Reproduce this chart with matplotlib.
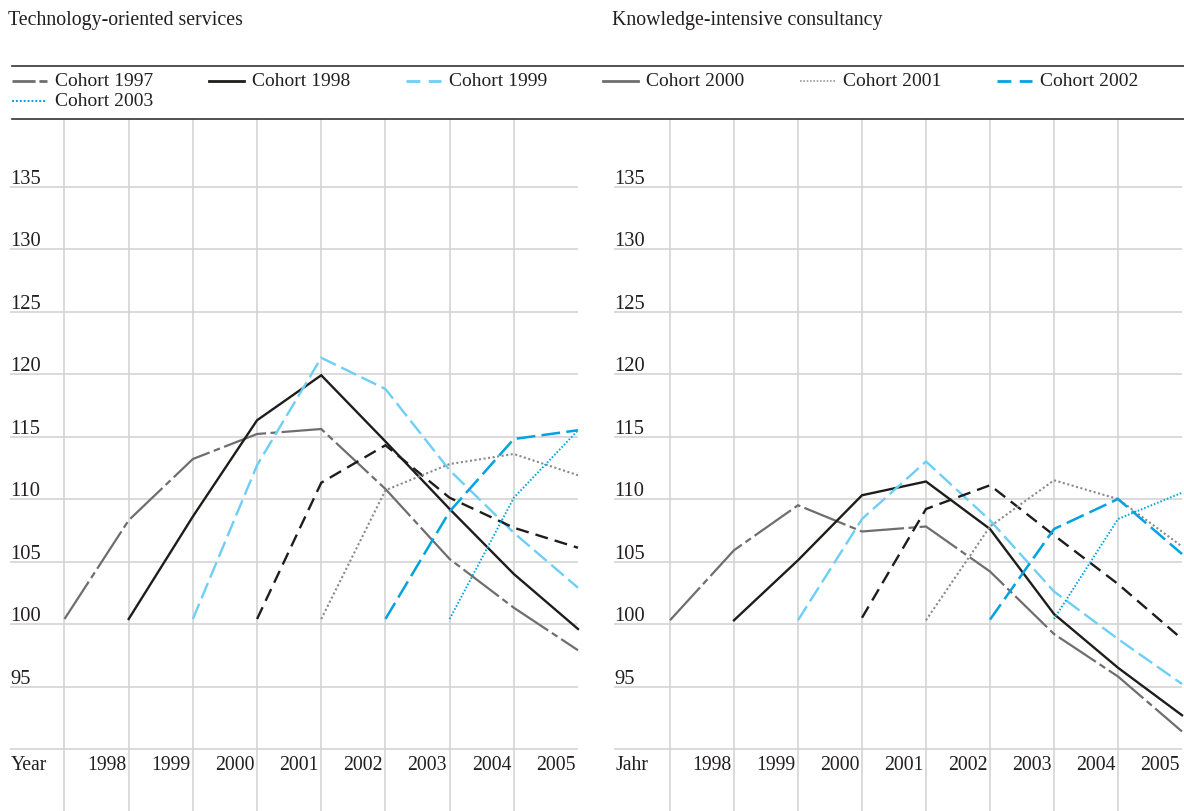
import matplotlib.pyplot as plt
from matplotlib.lines import Line2D
import matplotlib.transforms as mtransforms

plt.rcParams["font.family"] = ["Liberation Serif", "DejaVu Serif"]

# --- DATA ---
years = [1997, 1998, 1999, 2000, 2001, 2002, 2003, 2004, 2005]
cohorts = [1997, 1998, 1999, 2000, 2001, 2002, 2003]

tech_1997 = [100.4, 108.3, 113.2, 115.2, 115.6, 110.8, 105.2, 101.3, 97.9]
tech_1998 = [100.4, 108.6, 116.3, 119.9, 114.6, 109.2, 104.0, 99.6]
tech_1999 = [100.4, 112.7, 121.3, 118.8, 112.3, 107.3, 102.9]
tech_2000 = [100.4, 111.3, 114.3, 110.1, 107.7, 106.1]
tech_2001 = [100.4, 110.7, 112.8, 113.6, 111.9]
tech_2002 = [100.4, 109.0, 114.8, 115.5]
tech_2003 = [100.4, 110.1, 115.5]

know_1997 = [100.3, 105.9, 109.5, 107.4, 107.8, 104.2, 99.2, 95.8, 91.4]
know_1998 = [100.3, 105.1, 110.3, 111.4, 107.6, 100.8, 96.5, 92.7]
know_1999 = [100.3, 108.4, 113.0, 108.3, 102.6, 98.8, 95.2]
know_2000 = [100.5, 109.2, 111.1, 107.1, 103.2, 98.8]
know_2001 = [100.3, 107.8, 111.5, 110.0, 106.2]
know_2002 = [100.35, 107.6, 110.0, 105.6]
know_2003 = [100.4, 108.4, 110.5]

tech_series = [tech_1997, tech_1998, tech_1999, tech_2000, tech_2001, tech_2002, tech_2003]
know_series = [know_1997, know_1998, know_1999, know_2000, know_2001, know_2002, know_2003]

y_labels = [95, 100, 105, 110, 115, 120, 125, 130, 135]

# --- STYLES ---
GRAY = "#6e6e6e"
BLACK = "#1d1d1b"
LIGHT_BLUE = "#6dcff6"
BLUE = "#00a3e0"
DOT_GRAY = "#8a8a8a"
GRID = "#d4d4d4"
TEXT = "#231f20"

# how each cohort is drawn inside the plot
line_styles = [
    dict(color=GRAY, lw=1.6, dashes=(20, 2, 3, 2)),
    dict(color=BLACK, lw=1.7),
    dict(color=LIGHT_BLUE, lw=1.7, dashes=(7, 2.5)),
    dict(color=BLACK, lw=1.7, dashes=(5.5, 3)),
    dict(color=DOT_GRAY, lw=1.5, dashes=(1, 1.2)),
    dict(color=BLUE, lw=1.8, dashes=(7.5, 2.5)),
    dict(color=BLUE, lw=1.4, dashes=(0.8, 1.0)),
]

# how each cohort appears in the legend
legend_styles = [
    dict(color=GRAY, lw=2, dashes=(8.3, 1.4, 2.9, 1.4)),
    dict(color=BLACK, lw=2),
    dict(color=LIGHT_BLUE, lw=2, dashes=(5, 3)),
    dict(color=GRAY, lw=2),
    dict(color="#9a9a9a", lw=1.2, dashes=(1, 1)),
    dict(color=BLUE, lw=2, dashes=(5, 3)),
    dict(color=BLUE, lw=1.4, dashes=(1, 1)),
]

FW, FH = 1184, 812
fig = plt.figure(figsize=(FW / 100, FH / 100), dpi=100)
fig.patch.set_facecolor("white")


def fx(x):
    return x / FW


def fy(y):
    return 1 - y / FH


def draw_panel(ax, series, xlim, axis_word):
    ax.set_xlim(*xlim)
    ax.set_ylim(85.04, 140.4)
    for s in ax.spines.values():
        s.set_visible(False)
    ax.set_xticks(years[:-1])
    ax.set_yticks(range(90, 140, 5))
    ax.tick_params(length=0, labelbottom=False, labelleft=False)
    ax.grid(True, color=GRID, lw=1.2)
    ax.set_axisbelow(True)

    for cohort, vals, st in zip(cohorts, series, line_styles):
        xs = years[years.index(cohort):][: len(vals)]
        ax.plot(xs, vals, clip_on=False, solid_joinstyle="miter",
                dash_joinstyle="miter", **st)

    trans = mtransforms.blended_transform_factory(ax.transAxes, ax.transData)
    for v in y_labels:
        ax.text(0.0, v + 0.3, str(v), transform=trans, ha="left",
                va="baseline", fontsize=14.8, color=TEXT)

    for yr in years[1:]:
        ax.text(yr - 0.04, 88.75, str(yr), ha="right", va="center",
                fontsize=14.2, color=TEXT)
    ax.text(0.002, 88.75, axis_word, transform=trans, ha="left",
            va="center", fontsize=14.2, color=TEXT)


ax_left = fig.add_axes([fx(10), 0, 568 / FW, 692 / FH])
ax_right = fig.add_axes([fx(614), 0, 568 / FW, 692 / FH])

draw_panel(ax_left, tech_series, (1996.151, 2005.0), "Year")
draw_panel(ax_right, know_series, (1996.125, 2005.0), "Jahr")

# --- TITLES ---
fig.text(fx(8), fy(20), "Technology-oriented services", fontsize=14.3,
         color=TEXT, va="center", ha="left")
fig.text(fx(612), fy(20), "Knowledge-intensive consultancy", fontsize=14.3,
         color=TEXT, va="center", ha="left")

# --- RULES AROUND THE LEGEND ---
for yy in (67, 120):
    fig.add_artist(Line2D([fx(12), 1], [fy(yy), fy(yy)], color="#333333", lw=1.2))

# --- LEGEND ---
for i, (cohort, st) in enumerate(zip(cohorts, legend_styles)):
    col = i % 6
    row = i // 6
    x0 = 12 + 197 * col
    yy = 82 + 20 * row
    fig.add_artist(Line2D([fx(x0), fx(x0 + 35)], [fy(yy), fy(yy)], **st))
    fig.text(fx(x0 + 43), fy(yy), f"Cohort {cohort}", fontsize=14,
             color=TEXT, va="center", ha="left")

fig.savefig("out.png", dpi=100, facecolor="white")
